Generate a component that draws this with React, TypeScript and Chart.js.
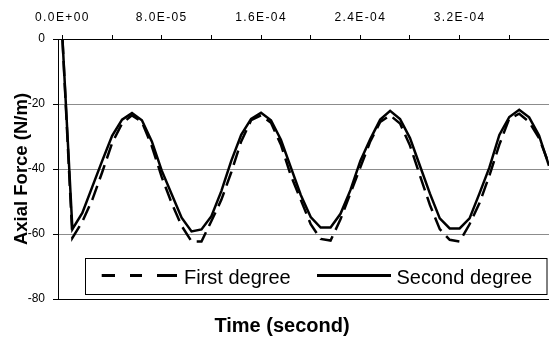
import React, { useEffect, useRef } from 'react';
import { Chart, registerables } from 'chart.js';

Chart.register(...registerables);

// Sample times in microseconds
const TIME_US = [
  0, 8, 16, 24, 32, 40, 48, 56, 64, 72,
  80, 88, 96, 104, 112, 120, 128, 136, 144, 152,
  160, 168, 176, 184, 192, 200, 208, 216, 224, 232,
  240, 248, 256, 264, 272, 280, 288, 296, 304, 312,
  320, 328, 336, 344, 352, 360, 368, 376, 384, 392,
];

const FIRST_DEGREE = [
  0, -61.2, -56.2, -49.5, -41, -32, -26, -23.5, -25.5, -33,
  -42.5, -50.5, -57.5, -62.3, -62.3, -56, -49.5, -41, -31.5, -25,
  -23.5, -25.8, -32.5, -42, -49.5, -57, -61.5, -62, -55.5, -47.5,
  -39.5, -31.5, -25.5, -23.5, -26, -32.8, -42, -51, -58.5, -61.8,
  -62.3, -57, -50.5, -42, -32.5, -24.5, -23, -25.5, -30.5, -38.5,
];

const SECOND_DEGREE = [
  0, -58.5, -53.5, -45.5, -37.5, -29.8, -24.8, -22.8, -25.0, -31.5,
  -40.5, -47.8, -55.0, -59.2, -58.6, -54.5, -46.8, -37.5, -29.5, -24.6,
  -22.7, -25.0, -31.0, -39.5, -48.0, -54.8, -58.0, -58.0, -53.8, -46.5,
  -37.5, -30.8, -24.8, -22.1, -24.6, -30.5, -39.0, -47.5, -55.2, -58.3,
  -58.3, -55.2, -47.5, -39.5, -29.5, -24.0, -21.8, -24.1, -29.7, -39.0,
];

const SERIES_NAMES = ['First degree', 'Second degree'];
const X_TICKS = [0, 0.00004, 0.00008, 0.00012, 0.00016, 0.0002, 0.00024, 0.00028, 0.00032, 0.00036];
const X_TICK_LABELS = ['0.0E+00', '', '8.0E-05', '', '1.6E-04', '', '2.4E-04', '', '3.2E-04', ''];
const Y_TICKS = [0, -20, -40, -60, -80];
const X_MIN = -0.0000036;
const X_MAX = 0.000392;
const Y_MIN = -80;
const Y_MAX = 0;
const X_TITLE = 'Time (second)';
const Y_TITLE = 'Axial Force (N/m)';

const FAMILY = "'Liberation Sans', Arial, sans-serif";

export default function App() {
  const ref = useRef<HTMLCanvasElement>(null);

  useEffect(() => {
    const canvas = ref.current;
    if (!canvas) return;
    const toPoints = (vals: number[]) => vals.map((v, i) => ({ x: TIME_US[i] * 1e-6, y: v }));

    const legendPlugin = {
      id: 'customLegend',
      afterDatasetsDraw(chart: any) {
        chart.ctx.letterSpacing = '1.4px';
      },
      afterDraw(chart: any) {
        const ctx = chart.ctx;
        ctx.letterSpacing = '0px';
        const a = chart.chartArea;
        const x1 = a.left + 27.5;
        const x2 = a.right - 2;
        const y1 = a.bottom - 40.5;
        const y2 = a.bottom - 4.5;
        ctx.save();
        ctx.fillStyle = '#fff';
        ctx.fillRect(x1, y1, x2 - x1, y2 - y1);
        ctx.strokeStyle = '#000';
        ctx.lineWidth = 1;
        ctx.strokeRect(x1, y1, x2 - x1, y2 - y1);
        const ly = y1 + 17;
        ctx.lineWidth = 3;
        ctx.lineCap = 'butt';
        const dashes = [[16.2, 29.5], [44.5, 56.5], [71.5, 91.5]];
        dashes.forEach(([s, e]) => {
          ctx.beginPath();
          ctx.moveTo(x1 + s, ly);
          ctx.lineTo(x1 + e, ly);
          ctx.stroke();
        });
        ctx.beginPath();
        ctx.moveTo(x1 + 231.5, ly);
        ctx.lineTo(x1 + 305.5, ly);
        ctx.stroke();
        ctx.fillStyle = '#000';
        ctx.font = `20px ${FAMILY}`;
        ctx.textBaseline = 'alphabetic';
        ctx.textAlign = 'left';
        ctx.fillText(SERIES_NAMES[0], x1 + 98.5, y1 + 25);
        ctx.fillText(SERIES_NAMES[1], x1 + 311, y1 + 25);
        // x-axis title below the plot
        ctx.font = `bold 20px ${FAMILY}`;
        ctx.textAlign = 'center';
        ctx.fillText(X_TITLE, a.left + 224, a.bottom + 33);
        ctx.restore();
      },
    };

    const chart = new Chart(canvas, {
      type: 'line',
      data: {
        datasets: [
          {
            label: SERIES_NAMES[0],
            data: toPoints(FIRST_DEGREE),
            borderColor: '#000',
            borderWidth: 2.5,
            borderDash: [15, 7],
            pointRadius: 0,
            tension: 0,
            fill: false,
          },
          {
            label: SERIES_NAMES[1],
            data: toPoints(SECOND_DEGREE),
            borderColor: '#000',
            borderWidth: 2.5,
            pointRadius: 0,
            tension: 0,
            fill: false,
          },
        ],
      },
      options: {
        animation: false,
        responsive: false,
        devicePixelRatio: 1,
        layout: { padding: { left: 0, right: 0, top: 0, bottom: 39 } },
        plugins: {
          legend: { display: false },
          tooltip: { enabled: false },
          title: { display: false },
        },
        scales: {
          x: {
            type: 'linear',
            position: 'top',
            min: X_MIN,
            max: X_MAX,
            afterBuildTicks: (s: any) => {
              s.ticks = X_TICKS.map((v) => ({ value: v }));
            },
            afterFit: (s: any) => {
              s.height = 39;
            },
            grid: {
              drawOnChartArea: false,
              drawTicks: true,
              tickLength: 4,
              color: '#000',
              tickColor: '#000',
            },
            border: { display: true, color: '#000', width: 1 },
            ticks: {
              z: 1,
              autoSkip: false,
              maxRotation: 0,
              padding: 10,
              color: '#000',
              font: { family: FAMILY, size: 12 },
              callback: (_v: any, i: number) => X_TICK_LABELS[i],
            },
          },
          y: {
            type: 'linear',
            min: Y_MIN,
            max: Y_MAX,
            afterBuildTicks: (s: any) => {
              s.ticks = Y_TICKS.map((v) => ({ value: v }));
            },
            afterFit: (s: any) => {
              s.width = 58;
            },
            grid: {
              color: (c: any) =>
                c.tick && (c.tick.value === Y_MIN || c.tick.value === Y_MAX) ? '#000' : '#8c8c8c',
              tickColor: '#000',
              tickLength: 5,
              lineWidth: 1,
            },
            border: { display: true, color: '#000', width: 1 },
            ticks: {
              padding: 8,
              color: '#000',
              font: { family: FAMILY, size: 12 },
              callback: (v: any) => String(v),
            },
            title: {
              display: true,
              text: Y_TITLE,
              color: '#000',
              font: { family: FAMILY, size: 18.5, weight: 'bold' },
              padding: { top: 11, bottom: 0 },
            },
          },
        },
      },
      plugins: [legendPlugin],
    } as any);

    return () => chart.destroy();
  }, []);

  return (
    <div style={{ position: 'fixed', left: 0, top: 0, width: 549, height: 338, background: '#fff' }}>
      <canvas ref={ref} width={549} height={338} style={{ display: 'block', width: 549, height: 338 }} />
    </div>
  );
}
